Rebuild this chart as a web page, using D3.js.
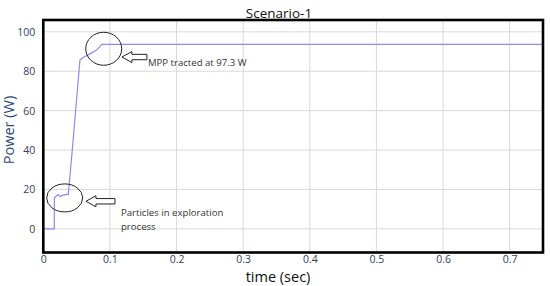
<!DOCTYPE html>
<html>
<head>
<meta charset="utf-8">
<script src="https://cdn.jsdelivr.net/npm/d3@7"></script>
<style>
  html, body { margin: 0; padding: 0; background: #fff; }
  svg { display: block; }
  text { font-family: "Open Sans", "Noto Sans", sans-serif; }
</style>
</head>
<body>
<svg id="chart" width="550" height="286"></svg>
<script>
// values
const timeSec = [0, 0.0165, 0.0166, 0.0225, 0.025, 0.03, 0.035, 0.0375, 0.0435, 0.055, 0.06, 0.07, 0.08, 0.085, 0.0875, 0.75];
const powerW = [0, 0, 15.8, 17.4, 16.5, 17.1, 17.5, 17.5, 40, 85.7, 87, 88.8, 90.8, 92.5, 93.6, 93.6];
const xTicks = [0, 0.1, 0.2, 0.3, 0.4, 0.5, 0.6, 0.7];
const yTicks = [0, 20, 40, 60, 80, 100];
const xDomain = [0, 0.75];
const yDomain = [-12, 106];

// annotations (data coordinates)
const ellipses = [
  { t: 0.0907, p: 91.4, rx: 18, ry: 16.5 },
  { t: 0.0321, p: 15.7, rx: 18, ry: 14 }
];
const arrows = [
  { t: 0.118, p: 87.2, len: 25 },
  { t: 0.064, p: 14, len: 29 }
];
const notes = [
  { t: 0.157, p: 84.5, lines: ['MPP tracted at 97.3 W'] },
  { t: 0.1166, p: 8.1, lines: ['Particles in exploration', 'process'] }
];

const svg = d3.select('#chart');
const margin = { top: 20, right: 7, bottom: 33.5, left: 43.3 };
const width = +svg.attr('width') - margin.left - margin.right;
const height = +svg.attr('height') - margin.top - margin.bottom;

const x = d3.scaleLinear().domain(xDomain).range([0, width]);
const y = d3.scaleLinear().domain(yDomain).range([height, 0]);

const g = svg.append('g')
  .attr('transform', 'translate(' + margin.left + ',' + margin.top + ')');

// grid
g.append('g')
  .selectAll('line')
  .data(xTicks.slice(1))
  .enter().append('line')
  .attr('x1', (d) => x(d)).attr('x2', (d) => x(d))
  .attr('y1', 0).attr('y2', height)
  .attr('stroke', '#d9d9d9').attr('stroke-width', 1);

g.append('g')
  .selectAll('line')
  .data(yTicks)
  .enter().append('line')
  .attr('x1', 0).attr('x2', width)
  .attr('y1', (d) => y(d)).attr('y2', (d) => y(d))
  .attr('stroke', '#d9d9d9').attr('stroke-width', 1);

// axes
const xAxis = g.append('g')
  .attr('transform', 'translate(0,' + height + ')')
  .call(d3.axisBottom(x).tickValues(xTicks).tickSize(0).tickPadding(3).tickFormat(d3.format('')));
const yAxis = g.append('g')
  .call(d3.axisLeft(y).tickValues(yTicks).tickSize(0).tickPadding(8));
[xAxis, yAxis].forEach((a) => {
  a.select('.domain').remove();
  a.selectAll('text')
    .attr('fill', '#34405a')
    .style('font-size', '10.5px')
    .style('font-family', '"Open Sans", sans-serif');
});

// line
const line = d3.line()
  .x((d, i) => x(timeSec[i]))
  .y((d) => y(d));

g.append('path')
  .datum(powerW)
  .attr('fill', 'none')
  .attr('stroke', '#8c8cec')
  .attr('stroke-width', 1.2)
  .attr('stroke-linejoin', 'round')
  .attr('d', line);

// frame
g.append('rect')
  .attr('x', 0).attr('y', 0)
  .attr('width', width).attr('height', height)
  .attr('fill', 'none')
  .attr('stroke', '#000')
  .attr('stroke-width', 2.6);

// annotations
g.selectAll('.ell')
  .data(ellipses)
  .enter().append('ellipse')
  .attr('class', 'ell')
  .attr('cx', (d) => x(d.t)).attr('cy', (d) => y(d.p))
  .attr('rx', (d) => d.rx).attr('ry', (d) => d.ry)
  .attr('fill', 'none')
  .attr('stroke', '#222')
  .attr('stroke-width', 1);

const arrowPath = (len) => {
  const head = 10, hh = 5.5, sh = 2.7;
  return 'M0,0 L' + head + ',' + (-hh) + ' L' + head + ',' + (-sh) +
    ' L' + len + ',' + (-sh) + ' L' + len + ',' + sh +
    ' L' + head + ',' + sh + ' L' + head + ',' + hh + ' Z';
};

g.selectAll('.arr')
  .data(arrows)
  .enter().append('path')
  .attr('class', 'arr')
  .attr('transform', (d) => 'translate(' + x(d.t) + ',' + y(d.p) + ')')
  .attr('d', (d) => arrowPath(d.len))
  .attr('fill', '#fff')
  .attr('stroke', '#222')
  .attr('stroke-width', 1);

const note = g.selectAll('.note')
  .data(notes)
  .enter().append('text')
  .attr('class', 'note')
  .attr('x', (d) => x(d.t))
  .attr('y', (d) => y(d.p))
  .attr('fill', '#333')
  .style('font-size', '9.6px');

note.selectAll('tspan')
  .data((d) => d.lines.map((l) => ({ l: l, x: x(d.t) })))
  .enter().append('tspan')
  .attr('x', (d) => d.x)
  .attr('dy', (d, i) => (i === 0 ? '0.35em' : '1.45em'))
  .text((d) => d.l);

// titles
svg.append('text')
  .attr('x', 279).attr('y', 18)
  .attr('text-anchor', 'middle')
  .attr('fill', '#111')
  .style('font-size', '13.5px')
  .text('Scenario-1');

svg.append('text')
  .attr('x', 278).attr('y', 282)
  .attr('text-anchor', 'middle')
  .attr('fill', '#111')
  .style('font-size', '14.5px')
  .text('time (sec)');

svg.append('text')
  .attr('transform', 'translate(14,130) rotate(-90)')
  .attr('text-anchor', 'middle')
  .attr('fill', '#2b4a78')
  .style('font-size', '14.5px')
  .text('Power (W)');
</script>
</body>
</html>
